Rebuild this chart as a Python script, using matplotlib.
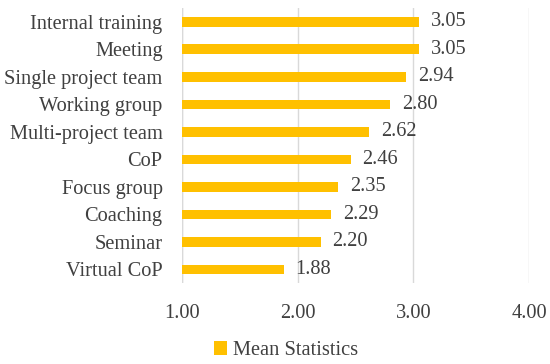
import matplotlib
matplotlib.use('Agg')
import matplotlib.pyplot as plt
import numpy as np

categories = ['Internal training', 'Meeting', 'Single project team', 'Working group',
              'Multi-project team', 'CoP', 'Focus group', 'Coaching', 'Seminar', 'Virtual CoP']
values = [3.05, 3.05, 2.94, 2.80, 2.62, 2.46, 2.35, 2.29, 2.20, 1.88]
xticks = [1.00, 2.00, 3.00, 4.00]

plt.rcParams['font.family'] = ['Liberation Serif']
txt = '#404040'
fs = 14.7

fig = plt.figure(figsize=(5.5, 3.64), dpi=100)
ax = fig.add_axes([0.331, 0.222, 0.631, 0.756])

y = np.arange(len(categories))
ax.barh(y, np.array(values) - 1, left=1, height=0.35, color='#FFC000',
        label='Mean Statistics', zorder=3)
for yi, v in zip(y, values):
    ax.text(v + 0.1, yi, '%.2f' % v, va='center', ha='left', fontsize=fs, color=txt)

ax.set_xlim(1, 4)
ax.set_ylim(len(categories) - 0.5, -0.5)
ax.set_xticks(xticks)
ax.set_xticklabels(['%.2f' % t for t in xticks], fontsize=fs, color=txt)
ax.set_yticks(y)
ax.set_yticklabels(categories, fontsize=fs, color=txt)
ax.tick_params(length=0, pad=14)
ax.tick_params(axis='x', pad=15)
ax.grid(axis='x', color='#d9d9d9', linewidth=1, zorder=0)
for s in ax.spines.values():
    s.set_visible(False)
ax.axvline(1, color='#d9d9d9', linewidth=1, zorder=1)

fig.legend(loc='lower center', bbox_to_anchor=(0.52, -0.04), frameon=False,
           fontsize=fs, labelcolor=txt, handlelength=0.65, handleheight=0.65,
           handletextpad=0.3)

fig.savefig('out.png', dpi=100)
